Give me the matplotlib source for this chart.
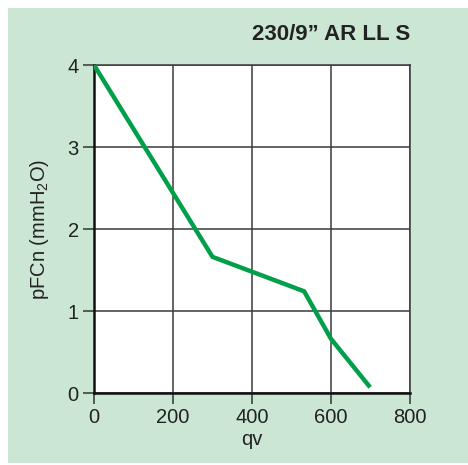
import matplotlib.pyplot as plt
from matplotlib.patches import Rectangle

qv = [0, 300, 532, 600, 699]
pfcn = [4.0, 1.66, 1.24, 0.66, 0.07]

x_ticks = [0, 200, 400, 600, 800]
y_ticks = [0, 1, 2, 3, 4]

TITLE = "230/9\u201d AR LL S"

plt.rcParams["font.family"] = ["Liberation Sans", "DejaVu Sans"]
plt.rcParams["mathtext.fontset"] = "custom"
plt.rcParams["mathtext.rm"] = "Liberation Sans"
plt.rcParams["mathtext.it"] = "Liberation Sans"

W, H = 468, 465
fig = plt.figure(figsize=(W / 100, H / 100), dpi=100)
fig.patch.set_facecolor("white")

# green panel behind the chart
fig.patches.append(Rectangle((8 / W, 2 / H), 1 - 8 / W, 1 - 10 / H,
                             transform=fig.transFigure, facecolor="#cce6d4",
                             edgecolor="none", zorder=-10))

ax = fig.add_axes([94 / W, 1 - 393 / H, 316 / W, 328 / H])
ax.set_facecolor("white")

ax.plot(qv, pfcn, color="#00a04a", lw=3.2, solid_capstyle="butt", zorder=3)

ax.set_xlim(0, 800)
ax.set_ylim(0, 4)
ax.set_xticks(x_ticks)
ax.set_yticks(y_ticks)
ax.grid(True, color="#3a3a3a", lw=1.1)
ax.set_axisbelow(True)

for side in ["top", "right"]:
    ax.spines[side].set_color("#3a3a3a")
    ax.spines[side].set_linewidth(1.1)
for side in ["left", "bottom"]:
    ax.spines[side].set_color("#111111")
    ax.spines[side].set_linewidth(1.8)

ax.tick_params(direction="out", length=8, width=1.1, color="#333333",
               labelsize=14.5, labelcolor="#222222", pad=3)

ax.set_xlabel("qv", fontsize=14.5, color="#222222", labelpad=2)
ax.set_ylabel(r"pFCn (mmH$_\mathregular{2}$O)", fontsize=14.5,
              color="#222222", labelpad=12)

fig.text(410 / W, 1 - 34 / H, TITLE, ha="right", va="center",
         fontsize=16, fontweight="bold", color="#222222",
         family=["Liberation Sans Narrow", "Liberation Sans", "DejaVu Sans"])

fig.savefig("out.png", dpi=100)
